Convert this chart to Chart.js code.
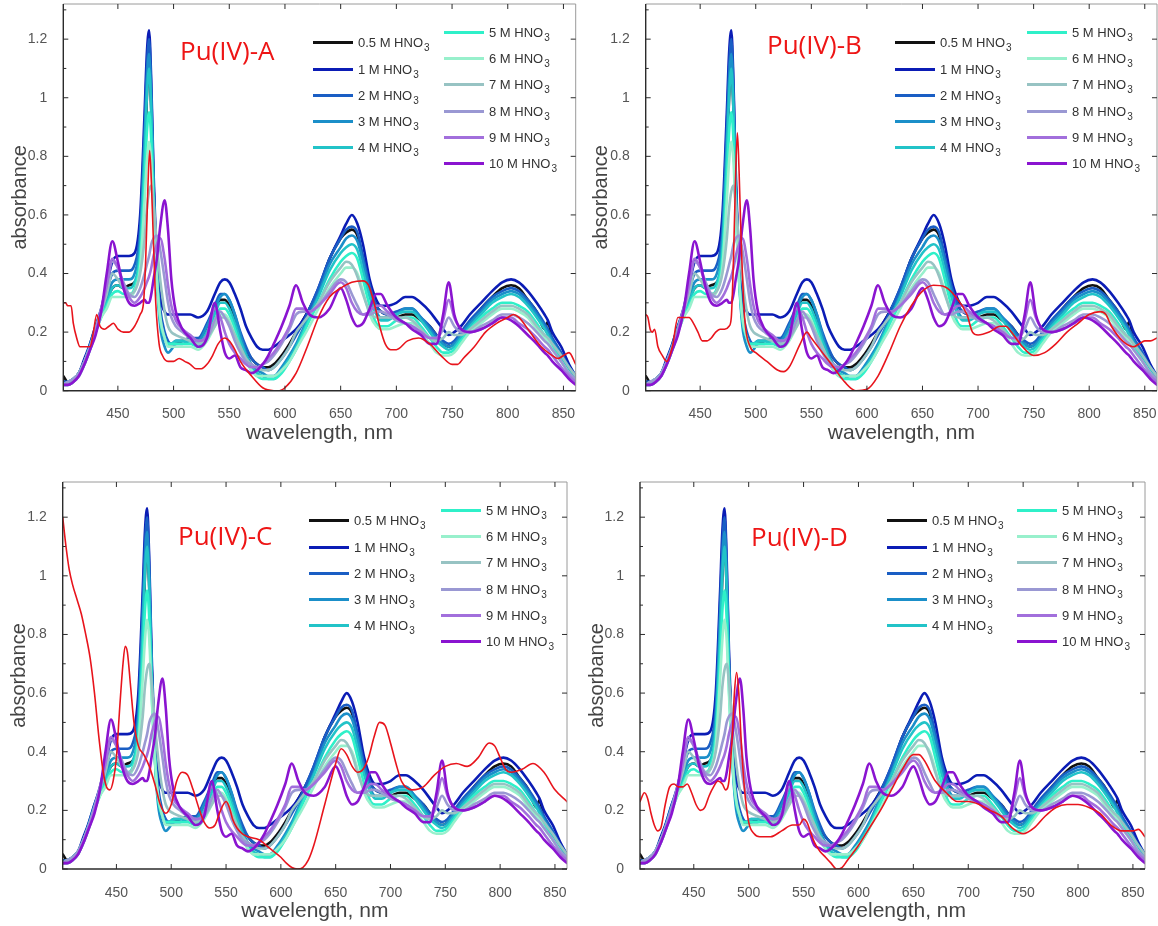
<!DOCTYPE html>
<html lang="en">
<head>
<meta charset="UTF-8">
<title>Pu(IV) absorbance vs HNO3</title>
<script src="https://cdn.jsdelivr.net/npm/chart.js"></script>
<style>
  html, body { margin: 0; padding: 0; background: #fff; }
  body { width: 1158px; height: 926px; position: relative; overflow: hidden; font-family: "Liberation Sans", Arial, sans-serif; }
  .tag { position: absolute; color: #ee1515; font-family: "Open Sans", "Noto Sans", sans-serif; font-size: 26px; line-height: 26px; white-space: nowrap; }
  .leg { position: absolute; display: flex; align-items: center; height: 16px; font-size: 13px; color: #333; white-space: nowrap; }
  .leg i { display: inline-block; width: 40px; height: 3px; margin-right: 5px; }
  .leg sub { font-size: 10px; position: relative; top: 5px; vertical-align: baseline; margin-left: 1px; }
</style>
</head>
<body>
<script>
// shared reference spectra (same in all four panels)
const wavelengths = [401,405,410,415,420,425,430,435,440,445,450,455,460,465,470,474,476,478,480,482,485,488,492,495,498,502,508,515,522,530,537,542,546,550,555,560,565,570,575,580,585,590,597,604,610,616,622,630,640,650,655,660,665,670,676,682,686,692,700,708,714,722,730,736,742,747,752,758,766,776,786,795,803,810,818,826,833,836,840,848,855,861];

const hno3_0_5 = [0.05,0.03,0.04,0.06,0.10,0.15,0.21,0.26,0.31,0.35, 0.36,0.35,0.36,0.37,0.45,0.75,1.0,1.12,0.95,0.7, 0.4,0.25,0.18,0.16,0.16,0.16,0.17,0.18,0.17,0.22, 0.28,0.31,0.31,0.29,0.24,0.19,0.14,0.11,0.09,0.08, 0.08,0.09,0.12,0.16,0.2,0.24,0.28,0.34,0.45,0.52, 0.54,0.55,0.53,0.45,0.35,0.29,0.27,0.26,0.25,0.26, 0.26,0.24,0.22,0.19,0.16,0.15,0.16,0.19,0.23,0.28, 0.32,0.35,0.36,0.35,0.31,0.27,0.21,0.235,0.17,0.12, 0.08,0.05];
const hno3_1 = [0.03,0.03,0.04,0.06,0.11,0.16,0.22,0.28,0.36,0.44, 0.46,0.46,0.46,0.47,0.6,0.95,1.15,1.23,1.05,0.75, 0.45,0.32,0.27,0.26,0.26,0.26,0.26,0.26,0.25,0.27, 0.33,0.37,0.38,0.37,0.33,0.28,0.22,0.18,0.15,0.14, 0.14,0.15,0.17,0.19,0.21,0.24,0.28,0.35,0.45,0.53, 0.57,0.6,0.57,0.5,0.38,0.31,0.29,0.29,0.3,0.32, 0.32,0.3,0.27,0.24,0.21,0.19,0.2,0.22,0.26,0.3, 0.34,0.37,0.38,0.37,0.34,0.3,0.26,0.24,0.2,0.15, 0.09,0.05];
const hno3_2 = [0.03,0.03,0.04,0.06,0.10,0.16,0.22,0.27,0.34,0.40, 0.41,0.41,0.41,0.43,0.55,0.9,1.1,1.2,1.02,0.72, 0.42,0.28,0.2,0.17,0.16,0.17,0.17,0.18,0.18,0.23, 0.29,0.33,0.33,0.31,0.26,0.2,0.15,0.11,0.09,0.08, 0.07,0.08,0.11,0.15,0.19,0.23,0.28,0.35,0.45,0.52, 0.55,0.56,0.54,0.46,0.36,0.29,0.27,0.26,0.27,0.28, 0.28,0.25,0.22,0.19,0.17,0.16,0.17,0.2,0.24,0.28, 0.32,0.34,0.35,0.34,0.31,0.27,0.23,0.21,0.18,0.13, 0.08,0.05];
const hno3_3 = [0.02,0.03,0.04,0.06,0.10,0.15,0.21,0.27,0.32,0.37, 0.38,0.38,0.38,0.4,0.52,0.85,1.05,1.15,0.98,0.68, 0.38,0.22,0.15,0.13,0.14,0.16,0.16,0.17,0.17,0.22, 0.28,0.32,0.33,0.31,0.26,0.19,0.13,0.09,0.07,0.06, 0.05,0.05,0.08,0.12,0.16,0.21,0.26,0.33,0.43,0.49, 0.52,0.53,0.51,0.44,0.34,0.27,0.25,0.25,0.26,0.28, 0.28,0.25,0.21,0.18,0.16,0.15,0.16,0.19,0.23,0.27, 0.31,0.33,0.34,0.33,0.3,0.26,0.22,0.2,0.17,0.12, 0.08,0.05];
const hno3_4 = [0.02,0.03,0.04,0.06,0.10,0.15,0.21,0.26,0.30,0.35, 0.36,0.35,0.35,0.37,0.48,0.8,1.0,1.1,0.95,0.68, 0.4,0.25,0.18,0.16,0.16,0.17,0.17,0.17,0.16,0.2, 0.26,0.3,0.3,0.28,0.23,0.17,0.12,0.08,0.06,0.05, 0.04,0.04,0.07,0.11,0.15,0.2,0.25,0.32,0.41,0.47, 0.49,0.5,0.48,0.41,0.32,0.26,0.24,0.24,0.26,0.27, 0.27,0.24,0.2,0.17,0.15,0.14,0.15,0.18,0.22,0.26, 0.3,0.32,0.33,0.32,0.29,0.25,0.21,0.19,0.16,0.11, 0.07,0.04];
const hno3_5 = [0.02,0.02,0.03,0.05,0.09,0.14,0.2,0.25,0.29,0.33, 0.34,0.33,0.33,0.35,0.45,0.72,0.88,0.95,0.85,0.62, 0.38,0.24,0.18,0.16,0.16,0.16,0.16,0.16,0.15,0.19, 0.24,0.28,0.28,0.26,0.21,0.15,0.1,0.07,0.05,0.04, 0.04,0.04,0.06,0.1,0.14,0.19,0.24,0.3,0.38,0.44, 0.46,0.47,0.45,0.38,0.29,0.23,0.22,0.22,0.24,0.25, 0.25,0.22,0.18,0.15,0.13,0.13,0.14,0.17,0.21,0.25, 0.28,0.3,0.3,0.29,0.27,0.23,0.19,0.18,0.15,0.1, 0.06,0.03];
const hno3_6 = [0.02,0.02,0.03,0.05,0.09,0.14,0.2,0.25,0.28,0.32, 0.32,0.32,0.32,0.34,0.42,0.65,0.78,0.85,0.78,0.6, 0.38,0.25,0.18,0.15,0.15,0.15,0.15,0.15,0.14,0.17, 0.22,0.26,0.26,0.24,0.19,0.14,0.1,0.07,0.05,0.05, 0.05,0.05,0.07,0.1,0.14,0.18,0.22,0.28,0.35,0.4, 0.42,0.42,0.4,0.34,0.26,0.22,0.21,0.21,0.22,0.23, 0.23,0.2,0.16,0.13,0.12,0.12,0.13,0.16,0.2,0.23, 0.26,0.28,0.28,0.27,0.25,0.21,0.18,0.17,0.14,0.1, 0.06,0.03];
const hno3_7 = [0.02,0.03,0.04,0.06,0.1,0.15,0.21,0.27,0.33,0.40, 0.38,0.35,0.33,0.34,0.4,0.52,0.62,0.68,0.7,0.64, 0.5,0.38,0.27,0.22,0.2,0.19,0.18,0.17,0.16,0.18, 0.22,0.25,0.25,0.23,0.19,0.15,0.11,0.09,0.08,0.07, 0.07,0.08,0.11,0.15,0.2,0.23,0.26,0.3,0.37,0.42, 0.44,0.43,0.39,0.33,0.27,0.25,0.25,0.25,0.25,0.25, 0.24,0.21,0.18,0.17,0.18,0.2,0.19,0.19,0.21,0.24, 0.27,0.29,0.29,0.28,0.26,0.22,0.19,0.18,0.16,0.12, 0.08,0.05];
const hno3_8 = [0.02,0.03,0.04,0.06,0.1,0.15,0.21,0.28,0.36,0.44, 0.42,0.37,0.33,0.32,0.35,0.4,0.43,0.46,0.5,0.52, 0.53,0.48,0.38,0.3,0.25,0.22,0.2,0.18,0.17,0.18, 0.24,0.27,0.25,0.22,0.17,0.13,0.1,0.09,0.08,0.09, 0.1,0.12,0.16,0.21,0.26,0.27,0.27,0.29,0.34,0.38, 0.37,0.33,0.29,0.26,0.26,0.27,0.27,0.26,0.24,0.23, 0.22,0.2,0.18,0.18,0.21,0.25,0.22,0.2,0.2,0.22, 0.24,0.26,0.26,0.25,0.23,0.2,0.17,0.16,0.14,0.1, 0.06,0.04];
const hno3_9 = [0.02,0.02,0.03,0.05,0.09,0.14,0.2,0.27,0.36,0.45, 0.42,0.36,0.32,0.3,0.32,0.35,0.37,0.39,0.42,0.46, 0.5,0.52,0.45,0.36,0.29,0.24,0.21,0.19,0.17,0.19, 0.28,0.25,0.2,0.16,0.13,0.11,0.09,0.08,0.08,0.09, 0.11,0.13,0.17,0.22,0.28,0.28,0.27,0.29,0.33,0.37, 0.35,0.3,0.27,0.26,0.27,0.29,0.29,0.27,0.25,0.23, 0.22,0.2,0.18,0.18,0.24,0.31,0.25,0.21,0.2,0.21, 0.23,0.25,0.25,0.23,0.21,0.18,0.15,0.14,0.12,0.08, 0.05,0.03];
const hno3_10 = [0.02,0.02,0.03,0.05,0.09,0.14,0.19,0.27,0.40,0.51, 0.44,0.35,0.3,0.29,0.3,0.31,0.3,0.3,0.33,0.38, 0.45,0.56,0.65,0.55,0.38,0.27,0.21,0.18,0.15,0.18, 0.3,0.2,0.13,0.11,0.12,0.08,0.07,0.06,0.07,0.09, 0.12,0.16,0.22,0.29,0.36,0.3,0.26,0.25,0.28,0.35, 0.31,0.25,0.22,0.23,0.28,0.33,0.33,0.29,0.25,0.23, 0.21,0.19,0.16,0.16,0.26,0.37,0.26,0.21,0.2,0.21, 0.23,0.25,0.24,0.22,0.19,0.16,0.13,0.12,0.1,0.07, 0.04,0.02];

const concLabels = ['0.5', '1', '2', '3', '4', '5', '6', '7', '8', '9', '10'];
const concColors = ['#111111', '#0b1cb5', '#1a5ec4', '#1b8fc9', '#22c3c8', '#2ff0c9', '#98f0cc', '#97c3c3', '#9a98d3', '#a26fdc', '#8a14d0'];
const family = [hno3_0_5, hno3_1, hno3_2, hno3_3, hno3_4, hno3_5, hno3_6, hno3_7, hno3_8, hno3_9, hno3_10];

// red sample spectra, one per panel
const redA_wl = [401,403,405,408,410,413,416,420,425,428,431,434,438,442,446,450,455,460,465,470,473,475,477,478.5,480,482,484,487,490,495,500,505,510,515,520,525,530,535,540,546,550,555,560,570,580,590,595,600,610,620,630,640,650,660,670,675,680,685,690,695,700,710,720,730,740,750,755,760,770,780,790,800,805,810,820,830,840,845,850,855,861];
const redA_abs = [0.30,0.30,0.29,0.29,0.23,0.18,0.15,0.15,0.15,0.2,0.26,0.22,0.21,0.22,0.23,0.21,0.2,0.2,0.22,0.26,0.3,0.45,0.7,0.82,0.72,0.5,0.3,0.16,0.12,0.1,0.1,0.11,0.1,0.09,0.075,0.075,0.09,0.12,0.16,0.18,0.17,0.14,0.1,0.05,0.01,0.0,0.0,0.01,0.06,0.15,0.25,0.32,0.35,0.37,0.375,0.36,0.3,0.22,0.16,0.14,0.14,0.17,0.18,0.16,0.12,0.09,0.09,0.11,0.15,0.2,0.23,0.25,0.26,0.25,0.2,0.15,0.12,0.11,0.12,0.13,0.09];

const redB_wl = [401,403,405,407,409,412,416,420,425,430,435,440,444,448,452,456,460,464,468,472,476,478,480,482,483.5,485,487,490,495,500,510,520,525,530,540,546,550,560,570,580,590,600,610,620,630,640,650,660,670,680,690,695,700,710,720,725,730,740,750,760,770,780,790,800,810,815,820,830,840,845,850,855,861];
const redB_abs = [0.26,0.25,0.21,0.2,0.21,0.15,0.12,0.1,0.15,0.25,0.25,0.25,0.23,0.2,0.17,0.17,0.18,0.2,0.21,0.21,0.22,0.25,0.45,0.75,0.88,0.75,0.5,0.25,0.15,0.13,0.1,0.07,0.065,0.08,0.16,0.2,0.18,0.13,0.08,0.03,0.0,0.005,0.05,0.13,0.22,0.29,0.34,0.36,0.355,0.32,0.26,0.2,0.19,0.2,0.22,0.22,0.2,0.15,0.12,0.13,0.16,0.2,0.23,0.26,0.27,0.26,0.22,0.17,0.15,0.16,0.17,0.17,0.18];

const redC_wl = [401,404,407,410,414,418,422,426,430,434,438,441,444,447,450,453,456,458,460,463,466,470,475,480,485,490,495,500,505,510,515,520,525,530,535,540,545,550,553,556,560,565,570,580,590,600,605,610,615,620,625,630,640,650,655,660,665,670,675,680,685,690,695,700,705,710,720,730,740,750,760,770,780,790,795,800,805,810,820,830,840,850,861];
const redC_abs = [1.2,1.1,1.02,0.97,0.92,0.87,0.8,0.72,0.6,0.45,0.33,0.28,0.27,0.3,0.38,0.55,0.7,0.76,0.74,0.62,0.5,0.42,0.39,0.35,0.29,0.22,0.19,0.22,0.3,0.33,0.32,0.27,0.21,0.16,0.14,0.15,0.2,0.23,0.21,0.17,0.14,0.12,0.11,0.1,0.07,0.04,0.02,0.005,0.0,0.005,0.03,0.08,0.22,0.36,0.41,0.39,0.35,0.33,0.34,0.38,0.45,0.5,0.49,0.43,0.36,0.3,0.27,0.28,0.32,0.35,0.36,0.35,0.38,0.43,0.42,0.38,0.34,0.33,0.34,0.36,0.33,0.27,0.23];

const redD_wl = [401,405,408,411,414,417,420,424,428,432,436,440,444,448,452,456,460,464,468,472,476,479,482,485,487,489,491,493,496,500,505,510,520,530,540,546,550,553,556,560,565,570,575,580,585,590,600,610,620,630,640,650,655,660,670,680,690,700,710,720,730,740,750,760,770,780,790,800,810,820,830,840,850,855,861];
const redD_abs = [0.23,0.26,0.24,0.19,0.15,0.13,0.14,0.22,0.28,0.29,0.28,0.28,0.29,0.26,0.22,0.2,0.21,0.25,0.28,0.3,0.29,0.27,0.3,0.45,0.6,0.67,0.6,0.45,0.28,0.16,0.12,0.11,0.11,0.13,0.15,0.15,0.17,0.16,0.13,0.09,0.06,0.04,0.02,0.0,0.005,0.03,0.08,0.14,0.2,0.27,0.34,0.39,0.39,0.37,0.3,0.26,0.23,0.23,0.22,0.2,0.18,0.14,0.12,0.14,0.18,0.21,0.22,0.22,0.21,0.19,0.15,0.13,0.13,0.135,0.11];

const xTickValues = [450, 500, 550, 600, 650, 700, 750, 800, 850];
const yTickValues = [0, 0.2, 0.4, 0.6, 0.8, 1, 1.2];
const yMinorTicks = [0.1, 0.3, 0.5, 0.7, 0.9, 1.1, 1.3];
const xMin = 401, xMax = 861, yMax = 1.32;

// page geometry: canvas box, plot area, title spots, tag and legend anchors
const panels = [
  { name: 'Pu(IV)-A', wl: redA_wl, abs: redA_abs, canvas: [0, 0, 580, 460], plot: [63.3, 4, 575.7, 390.7], yTitleX: 20.5, xTitleY: 433, tag: [180, 50], leg: [313, 42.7, 444, 32.3] },
  { name: 'Pu(IV)-B', wl: redB_wl, abs: redB_abs, canvas: [580, 0, 578, 460], plot: [645.7, 4, 1157, 390.7], yTitleX: 601.5, xTitleY: 433, tag: [767, 44], leg: [895, 42.7, 1027, 32.3] },
  { name: 'Pu(IV)-C', wl: redC_wl, abs: redC_abs, canvas: [0, 460, 580, 466], plot: [62.7, 482, 567, 869], yTitleX: 19.5, xTitleY: 911.5, tag: [178, 535], leg: [309, 520.7, 441, 510.3] },
  { name: 'Pu(IV)-D', wl: redD_wl, abs: redD_abs, canvas: [580, 460, 578, 466], plot: [640, 482, 1145, 869], yTitleX: 597, xTitleY: 911.5, tag: [751, 536], leg: [887, 520.7, 1017, 510.3] }
];

Chart.defaults.font.family = '"Liberation Sans", Arial, sans-serif';

// Matlab-like box with inward ticks
const frameTicks = {
  id: 'frameTicks',
  afterDatasetsDraw(chart) {
    const { ctx, chartArea: a, scales: { x, y } } = chart;
    ctx.save();
    ctx.strokeStyle = '#9a9a9a';
    ctx.lineWidth = 1;
    ctx.beginPath();
    ctx.moveTo(a.left, a.top); ctx.lineTo(a.right, a.top); ctx.lineTo(a.right, a.bottom);
    ctx.stroke();
    ctx.strokeStyle = '#2b2b2b';
    ctx.lineWidth = 1.4;
    ctx.beginPath();
    ctx.moveTo(a.left, a.top); ctx.lineTo(a.left, a.bottom); ctx.lineTo(a.right, a.bottom);
    ctx.stroke();
    ctx.lineWidth = 1;
    ctx.beginPath();
    xTickValues.forEach(v => {
      const px = x.getPixelForValue(v);
      ctx.moveTo(px, a.bottom); ctx.lineTo(px, a.bottom - 5);
      ctx.moveTo(px, a.top); ctx.lineTo(px, a.top + 5);
    });
    yTickValues.forEach(v => {
      const py = y.getPixelForValue(v);
      ctx.moveTo(a.left, py); ctx.lineTo(a.left + 5, py);
      ctx.moveTo(a.right, py); ctx.lineTo(a.right - 5, py);
    });
    yMinorTicks.forEach(v => {
      const py = y.getPixelForValue(v);
      ctx.moveTo(a.left, py); ctx.lineTo(a.left + 3, py);
    });
    ctx.stroke();
    ctx.restore();
  }
};

function addOverlay(p) {
  const tag = document.createElement('div');
  tag.className = 'tag';
  tag.textContent = p.name;
  tag.style.left = p.tag[0] + 'px';
  tag.style.top = (p.tag[1] - 13) + 'px';
  document.body.appendChild(tag);

  const [lx, ly, rx, ry] = p.leg;
  concLabels.forEach((c, i) => {
    const first = i < 5;
    const row = document.createElement('div');
    row.className = 'leg';
    row.style.left = (first ? lx : rx) + 'px';
    row.style.top = ((first ? ly : ry) + (first ? i : i - 5) * 26.3 - 8) + 'px';
    row.innerHTML = `<i style="background:${concColors[i]}"></i>${c} M HNO<sub>3</sub>`;
    document.body.appendChild(row);
  });
}

function makeChart(p) {
  const [cx, cy, cw, ch] = p.canvas;
  const [pl, pt, pr, pb] = p.plot;
  const cv = document.createElement('canvas');
  cv.width = cw; cv.height = ch;
  cv.style.cssText = `position:absolute;left:${cx}px;top:${cy}px;width:${cw}px;height:${ch}px`;
  document.body.appendChild(cv);

  const datasets = family.map((s, i) => ({
    label: concLabels[i] + ' M HNO3',
    data: wavelengths.map((w, k) => ({ x: w, y: s[k] })),
    borderColor: concColors[i],
    borderWidth: 2.6,
    order: 11 - i
  }));
  datasets.push({
    label: p.name,
    data: p.wl.map((w, k) => ({ x: w, y: p.abs[k] })),
    borderColor: '#e8141c',
    borderWidth: 1.6,
    order: 0
  });

  new Chart(cv, {
    type: 'line',
    data: { datasets },
    options: {
      responsive: false,
      animation: false,
      events: [],
      layout: { padding: { left: 0, top: pt - cy, right: cx + cw - pr, bottom: 0 } },
      plugins: { legend: { display: false }, tooltip: { enabled: false } },
      elements: {
        point: { radius: 0 },
        line: { cubicInterpolationMode: 'monotone', borderJoinStyle: 'round', borderCapStyle: 'round' }
      },
      scales: {
        x: {
          type: 'linear', min: xMin, max: xMax,
          grid: { display: false }, border: { display: false },
          afterBuildTicks: s => { s.ticks = xTickValues.map(v => ({ value: v })); },
          afterFit: s => { s.height = cy + ch - pb; s.paddingLeft = 0; s.paddingRight = 0; },
          ticks: { color: '#555', font: { size: 14 }, padding: 7.5, maxRotation: 0, autoSkip: false },
          title: { display: true, text: 'wavelength, nm', color: '#444', font: { size: 21 },
                   padding: { top: 0, bottom: cy + ch - 12.6 - p.xTitleY } }
        },
        y: {
          type: 'linear', min: 0, max: yMax,
          grid: { display: false }, border: { display: false },
          afterBuildTicks: s => { s.ticks = yTickValues.map(v => ({ value: v })); },
          afterFit: s => { s.width = pl - cx; s.paddingTop = 0; s.paddingBottom = 0; },
          ticks: { color: '#555', font: { size: 14 }, padding: 8, callback: v => String(v) },
          title: { display: true, text: 'absorbance', color: '#444', font: { size: 20 },
                   padding: { top: p.yTitleX - cx - 12, bottom: 0 } }
        }
      }
    },
    plugins: [frameTicks]
  });
}

panels.forEach(p => { makeChart(p); addOverlay(p); });
</script>
</body>
</html>
